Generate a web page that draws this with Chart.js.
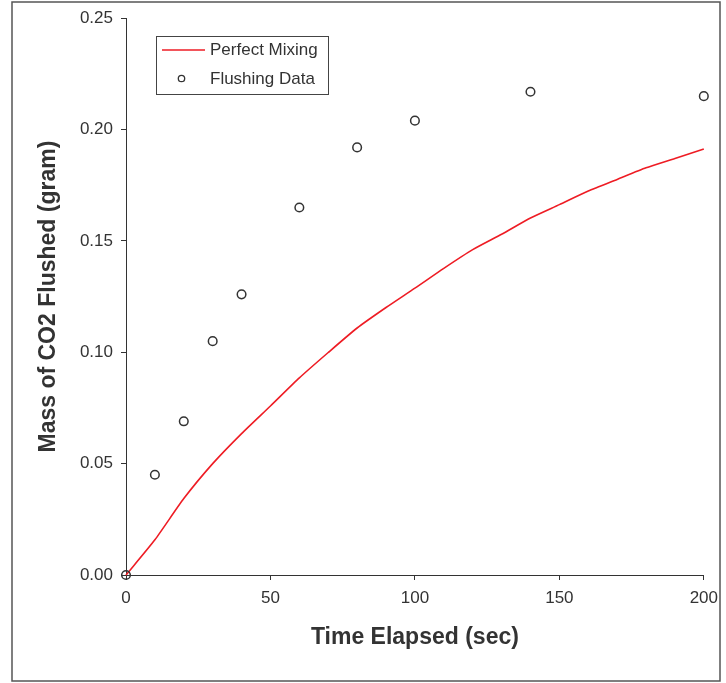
<!DOCTYPE html>
<html lang="en">
<head>
  <meta charset="UTF-8">
  <title>Mass of CO2 Flushed</title>
  <script src="https://cdn.jsdelivr.net/npm/chart.js"></script>
  <style>
    body {
      margin: 0;
      background: #fff;
    }
    #chart {
      display: block;
    }
  </style>
</head>
<body>
  <canvas id="chart" width="726" height="683"></canvas>

  <script>
    // perfect mixing curve
    const mixTime = [0, 10, 20, 30, 40, 50, 60, 70, 80, 90, 100, 110, 120, 130, 140, 150, 160, 170, 180, 190, 200];
    const mixMass = [0, 0.0158, 0.0343, 0.0500, 0.0635, 0.0759, 0.0885, 0.0999, 0.1109, 0.1201, 0.1288,
      0.1377, 0.1461, 0.1530, 0.1603, 0.1663, 0.1724, 0.1776, 0.1828, 0.1870, 0.1913];

    // measured flushing data
    const flushTime = [0, 10, 20, 30, 40, 60, 80, 100, 140, 200];
    const flushMass = [0, 0.045, 0.069, 0.105, 0.126, 0.165, 0.192, 0.204, 0.217, 0.215];

    const seriesNames = ['Perfect Mixing', 'Flushing Data'];
    const xTitle = 'Time Elapsed (sec)';
    const yTitle = 'Mass of CO2 Flushed (gram)';

    const textColor = '#333';
    const red = '#ee1c24';

    const toPoints = (xs, ys) => xs.map((x, i) => ({ x: x, y: ys[i] }));

    // outer frame + legend box inside the plot
    const framePlugin = {
      id: 'frame',
      afterDraw(chart) {
        const ctx = chart.ctx;
        ctx.save();
        ctx.strokeStyle = '#555';
        ctx.lineWidth = 1.5;
        ctx.strokeRect(12, 2, 708, 679);

        // legend
        ctx.strokeStyle = '#444';
        ctx.lineWidth = 1;
        ctx.strokeRect(156.5, 36.5, 172, 58);

        ctx.strokeStyle = red;
        ctx.lineWidth = 1.5;
        ctx.beginPath();
        ctx.moveTo(162, 50);
        ctx.lineTo(205, 50);
        ctx.stroke();

        ctx.strokeStyle = textColor;
        ctx.lineWidth = 1.3;
        ctx.beginPath();
        ctx.arc(181.5, 78.5, 3.2, 0, Math.PI * 2);
        ctx.stroke();

        ctx.fillStyle = textColor;
        ctx.font = '17px "Liberation Sans", Arial, sans-serif';
        ctx.textBaseline = 'middle';
        ctx.textAlign = 'left';
        ctx.fillText(seriesNames[0], 210, 50);
        ctx.fillText(seriesNames[1], 210, 79);
        ctx.restore();
      }
    };

    const tickFont = { family: '"Liberation Sans", Arial, sans-serif', size: 17 };
    const titleFont = { family: '"Liberation Sans", Arial, sans-serif', size: 23, weight: 'bold' };

    const chart = new Chart(document.getElementById('chart').getContext('2d'), {
      type: 'scatter',
      data: {
        datasets: [
          {
            label: seriesNames[0],
            data: toPoints(mixTime, mixMass),
            showLine: true,
            borderColor: red,
            borderWidth: 1.6,
            pointRadius: 0,
            tension: 0.2,
            clip: false,
            order: 2
          },
          {
            label: seriesNames[1],
            data: toPoints(flushTime, flushMass),
            showLine: false,
            pointRadius: 4.3,
            pointBorderWidth: 1.5,
            pointBorderColor: textColor,
            pointBackgroundColor: 'rgba(0,0,0,0)',
            clip: false,
            order: 1
          }
        ]
      },
      options: {
        responsive: false,
        animation: false,
        layout: { padding: { left: 0, top: 18, right: 22, bottom: 0 } },
        plugins: {
          legend: { display: false },
          tooltip: { enabled: false }
        },
        scales: {
          x: {
            type: 'linear',
            min: 0,
            max: 200,
            afterFit: (scale) => { scale.height = 108; },
            ticks: { stepSize: 50, color: textColor, font: tickFont, padding: 8, maxRotation: 0 },
            grid: { drawOnChartArea: false, tickLength: 5, color: textColor },
            border: { color: textColor, width: 1 },
            title: { display: true, text: xTitle, color: textColor, font: titleFont, padding: { top: 0, bottom: 32 } }
          },
          y: {
            min: 0,
            max: 0.25,
            afterFit: (scale) => { scale.width = 126; },
            ticks: {
              stepSize: 0.05,
              color: textColor,
              font: tickFont,
              padding: 8,
              callback: (v) => v.toFixed(2)
            },
            grid: { drawOnChartArea: false, tickLength: 5, color: textColor },
            border: { color: textColor, width: 1 },
            title: { display: true, text: yTitle, color: textColor, font: titleFont, padding: { top: 35, bottom: 0 } }
          }
        }
      },
      plugins: [framePlugin]
    });
  </script>
</body>
</html>
